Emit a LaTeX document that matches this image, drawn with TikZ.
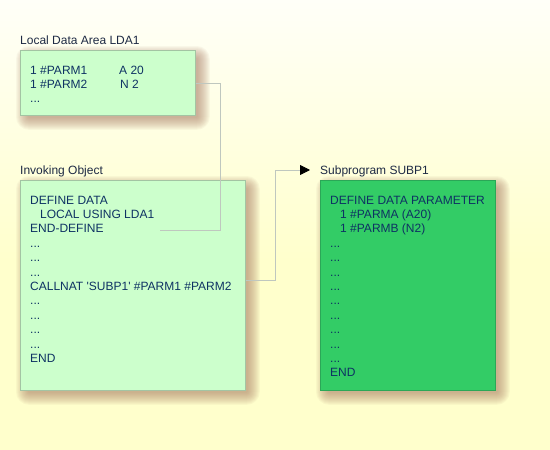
\documentclass[tikz,border=0pt]{standalone}
\usepackage{fontspec}
\setmainfont{Liberation Sans}
\usetikzlibrary{calc,arrows.meta,backgrounds}
\pgfdeclarelayer{bg}
\pgfsetlayers{bg,background,main}
\definecolor{bgtop}{HTML}{FFFFF8}
\definecolor{bgbot}{HTML}{FFFFCC}
\definecolor{lightgreen}{HTML}{CCFFCC}
\definecolor{lightborder}{HTML}{A3C4A3}
\definecolor{darkgreen}{HTML}{33CC66}
\definecolor{darkborder}{HTML}{2BA757}
\definecolor{codecol}{HTML}{0E3263}
\definecolor{titlecol}{HTML}{1E2A44}
\definecolor{conncol}{HTML}{BFC7BF}
\definecolor{shadowcol}{HTML}{A87A62}
\newcommand{\mydots}{...}
\newcommand{\softshadow}[1]{%
  \foreach \e in {-3,...,9}{
    \fill[shadowcol, fill opacity=0.06, rounded corners={max(\e+4,1)*1pt}]
      ($(#1.north west)+(5-\e,5-\e)$) rectangle ($(#1.south east)+(5+\e,5+\e)$);
  }}
\tikzset{
  box/.style={draw, line width=0.8pt, anchor=north west, inner sep=0pt},
  ldabox/.style={box, fill=lightgreen, draw=lightborder},
  subbox/.style={box, fill=darkgreen, draw=darkborder},
  title/.style={anchor=base west, inner sep=0pt, text=titlecol, font=\fontsize{12}{14}\selectfont},
  code/.style={anchor=base west, inner sep=0pt, text=codecol, font=\fontsize{12}{14}\selectfont},
  conn/.style={draw=conncol, line width=0.8pt},
}
\begin{document}
\begin{tikzpicture}[x=1pt,y=-1pt]
\useasboundingbox (0,0) rectangle (550,450);
\begin{pgfonlayer}{bg}
\shade[top color=bgtop, bottom color=bgbot] (0,0) rectangle (550,260);
\fill[bgbot] (0,259) rectangle (550,450);
\end{pgfonlayer}

% Local Data Area
\node[title] (ldatitle) at (20,44) {Local Data Area LDA1};
\node[ldabox, minimum width=175pt, minimum height=65pt] (lda) at (20,50) {};
\node[code] (l1) at (30,74) {1 \#PARM1};
\node[code] (l1b) at (119,74) {A 20};
\node[code] (l2) at (30,88.4) {1 \#PARM2};
\node[code] (l2b) at (120,88.4) {N 2};
\node[code] (l3) at (30,102.8) {\mydots};

% Invoking Object
\node[title] (invtitle) at (20,174) {Invoking Object};
\node[ldabox, minimum width=225pt, minimum height=210pt] (inv) at (20,180) {};
\foreach \t [count=\i from 0] in {DEFINE DATA,\hspace{10pt}LOCAL USING LDA1,END-DEFINE,\mydots,\mydots,\mydots,CALLNAT \textquotesingle SUBP1\textquotesingle{} \#PARM1 \#PARM2,\mydots,\mydots,\mydots,\mydots,END}{
  \node[code] (inv\i) at (30,204+14.4*\i) {\t};
}

% Subprogram
\node[title] (subtitle) at (320,174) {Subprogram SUBP1};
\node[subbox, minimum width=175pt, minimum height=210pt] (sub) at (320,180) {};
\foreach \t [count=\i from 0] in {DEFINE DATA PARAMETER,\hspace{10pt}1 \#PARMA (A20),\hspace{10pt}1 \#PARMB (N2),\mydots,\mydots,\mydots,\mydots,\mydots,\mydots,\mydots,\mydots,\mydots,END}{
  \node[code] (sub\i) at (330,204+14.4*\i) {\t};
}

% shadows
\begin{scope}[on background layer]
\softshadow{lda}
\softshadow{inv}
\softshadow{sub}
\end{scope}

% connectors
\coordinate (ldaend) at (160,230);
\coordinate (subarrow) at (310,170);
\draw[conn] (lda.east) -| (220,230) -- (ldaend);
\draw[conn, -{Triangle[length=10pt,width=10pt,black]}] ($(inv.east)+(0,-5)$) -| (275,170) -- (subarrow);
\end{tikzpicture}
\end{document}
